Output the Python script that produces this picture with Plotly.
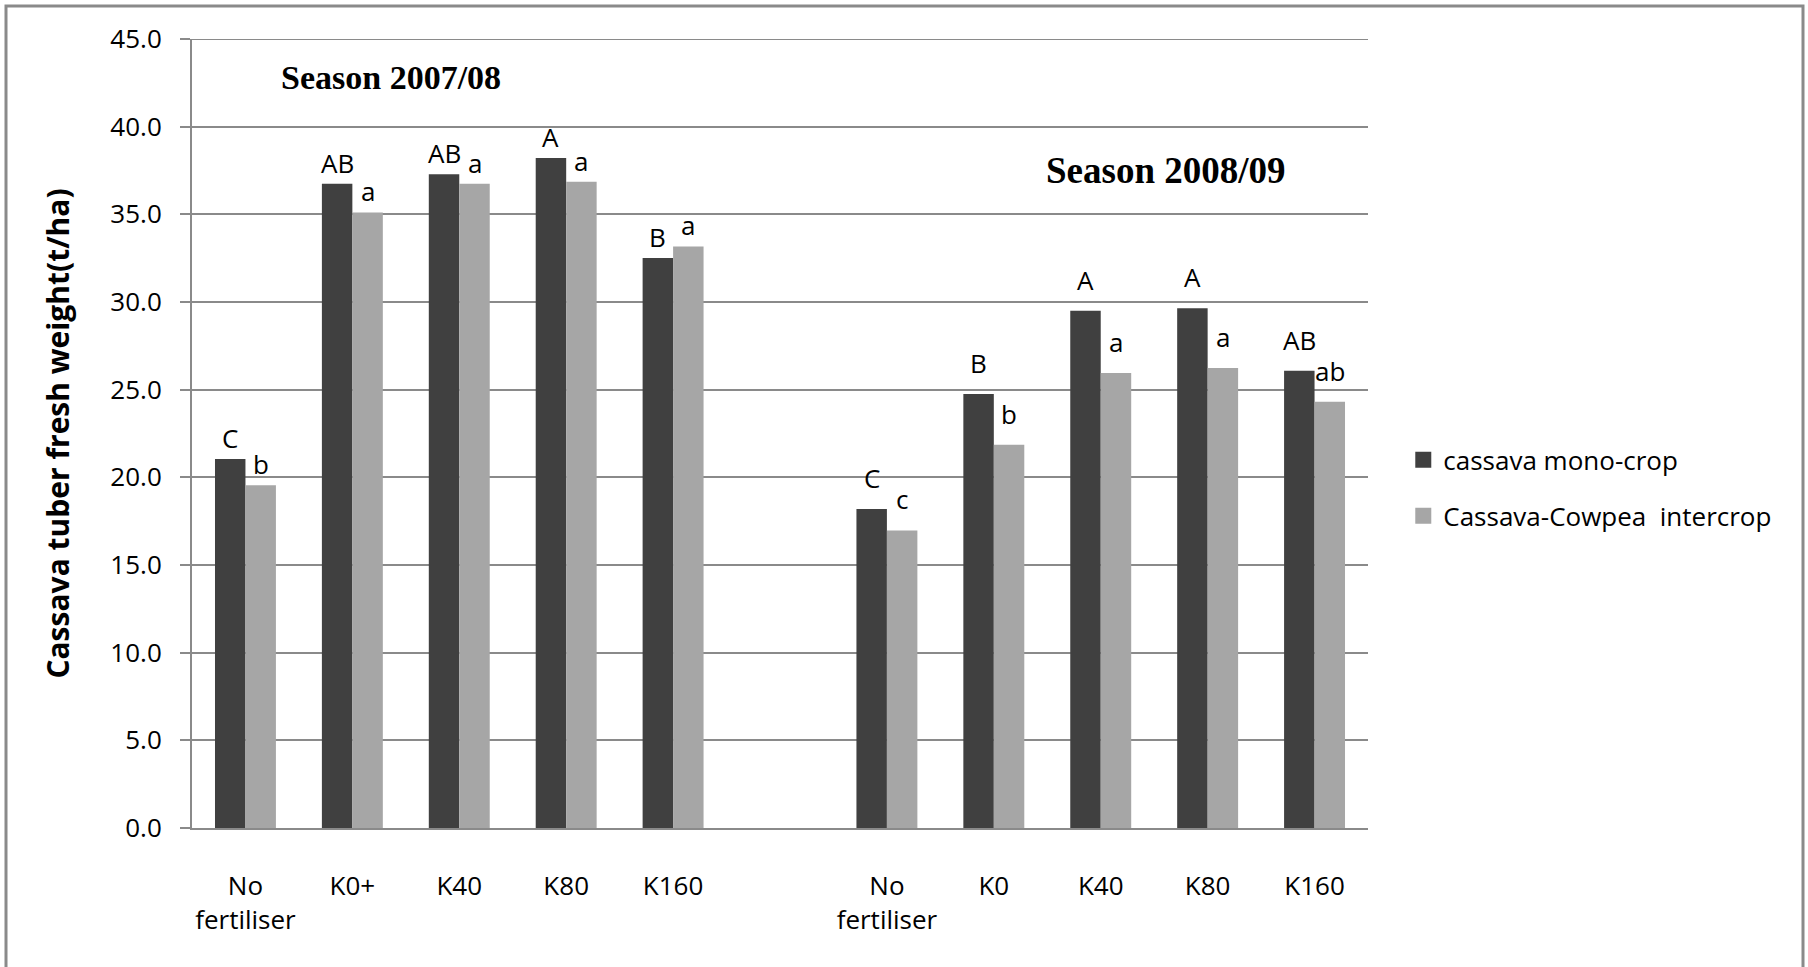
import plotly.graph_objects as go

# ---- data ----
season1_labels = ["No<br>fertiliser", "K0+", "K40", "K80", "K160"]
season2_labels = ["No<br>fertiliser", "K0", "K40", "K80", "K160"]

mono_s1 = [21.05, 36.75, 37.28, 38.21, 32.51]
inter_s1 = [19.55, 35.11, 36.75, 36.86, 33.17]
mono_s2 = [18.19, 24.75, 29.50, 29.64, 26.08]
inter_s2 = [16.97, 21.86, 25.95, 26.24, 24.31]

mono_letters_s1 = ["C", "AB", "AB", "A", "B"]
inter_letters_s1 = ["b", "a", "a", "a", "a"]
mono_letters_s2 = ["C", "B", "A", "A", "AB"]
inter_letters_s2 = ["c", "b", "a", "a", "ab"]

series_names = ["cassava mono-crop", "Cassava-Cowpea  intercrop"]
season_titles = ["Season 2007/08", "Season 2008/09"]
y_ticks = [0, 5, 10, 15, 20, 25, 30, 35, 40, 45]

# x positions: season 1 slots, an empty slot, then season 2 slots
n1 = len(season1_labels)
xs1 = list(range(n1))
xs2 = [n1 + 1 + i for i in range(len(season2_labels))]
xs = xs1 + xs2
tick_text = season1_labels + season2_labels

mono = mono_s1 + mono_s2
inter = inter_s1 + inter_s2

FONT = "Open Sans, Noto Sans, sans-serif"
SERIF = "Liberation Serif, Times New Roman, serif"
GRID = "#8a8a8a"
COLORS = ["#404040", "#a6a6a6"]
BARGAP = 0.43

fig = go.Figure()
for vals, name, col in [(mono, series_names[0], COLORS[0]),
                        (inter, series_names[1], COLORS[1])]:
    fig.add_trace(go.Bar(x=xs, y=vals, name=name, marker_color=col,
                         marker_line_width=0, showlegend=False))
# legend entries with larger square symbols
for i, (name, col) in enumerate(zip(series_names, COLORS)):
    fig.add_trace(go.Scatter(x=[None], y=[None], mode="markers", name=name,
                             marker=dict(symbol="square", size=16, color=col),
                             legendgroup="g%d" % i, showlegend=True))

# significance letters above each bar (offset of grouped bars from layout gap)
half = (1 - BARGAP) / 4
letter_font = dict(family=FONT, size=26, color="black")
for xset, mvals, ivals, mlet, ilet, gap in [
    (xs1, mono_s1, inter_s1, mono_letters_s1, inter_letters_s1, 1),
    (xs2, mono_s2, inter_s2, mono_letters_s2, inter_letters_s2, 11),
]:
    for xv, mv, iv, ml, il in zip(xset, mvals, ivals, mlet, ilet):
        fig.add_annotation(x=xv - half, y=mv, text=ml, showarrow=False,
                           xref="x", yref="y", yanchor="bottom", yshift=gap,
                           font=letter_font)
        fig.add_annotation(x=xv + half, y=iv, text=il, showarrow=False,
                           xref="x", yref="y", yanchor="bottom", yshift=gap,
                           font=letter_font)

W, H = 1808, 967
L, R, T, B = 192, 440, 39, 139

fig.update_layout(
    width=W, height=H,
    margin=dict(l=L, r=R, t=T, b=B, autoexpand=False),
    paper_bgcolor="white", plot_bgcolor="white",
    barmode="group", bargap=BARGAP, bargroupgap=0,
    font=dict(family=FONT, size=26, color="black"),
    showlegend=True,
    legend=dict(
        x=1.03, y=0.431, xanchor="left", yanchor="middle",
        font=dict(family=FONT, size=26, color="black"),
        tracegroupgap=19, bgcolor="rgba(0,0,0,0)",
    ),
    xaxis=dict(
        tickmode="array", tickvals=xs, ticktext=tick_text,
        range=[-0.5, xs[-1] + 0.5],
        showgrid=False, zeroline=False,
        showline=True, linecolor=GRID, linewidth=2,
        ticks="", ticklabelstandoff=34,
        tickfont=dict(family=FONT, size=26, color="black"),
    ),
    yaxis=dict(
        range=[0, 45], tickmode="array", tickvals=y_ticks, tickformat=".1f",
        showgrid=True, gridcolor=GRID, gridwidth=2,
        zeroline=False, showline=True, linecolor=GRID, linewidth=2,
        ticks="outside", ticklen=10, tickcolor=GRID, tickwidth=2,
        ticklabelstandoff=13,
        tickfont=dict(family=FONT, size=26, color="black"),
        title=dict(text="<b>Cassava tuber fresh weight(t/ha)</b>",
                   font=dict(family=FONT, size=30, color="black"),
                   standoff=32),
    ),
)

# top gridline at the end of the value range
fig.add_shape(type="line", xref="paper", yref="y", x0=0, x1=1,
              y0=y_ticks[-1], y1=y_ticks[-1],
              line=dict(color=GRID, width=2), layer="below")

# season titles
fig.add_annotation(text="<b>" + season_titles[0] + "</b>", xref="x", yref="y",
                   x=1.36, y=42.8, showarrow=False,
                   font=dict(family=SERIF, size=34, color="black"))
fig.add_annotation(text="<b>" + season_titles[1] + "</b>", xref="x", yref="y",
                   x=8.61, y=37.5, showarrow=False,
                   font=dict(family=SERIF, size=37, color="black"))

# chart-area border
pw = W - L - R
ph = H - T - B
def px_x(p):
    return (p - L) / pw
def px_y(p):
    return (H - B - p) / ph
fig.add_shape(type="rect", xref="paper", yref="paper",
              x0=px_x(6), x1=px_x(1803), y0=px_y(975), y1=px_y(6),
              line=dict(color="#8a8a8a", width=3), layer="below")

fig.write_html("out.html", config={"displayModeBar": False},
               post_script="document.body.style.margin='0';")
